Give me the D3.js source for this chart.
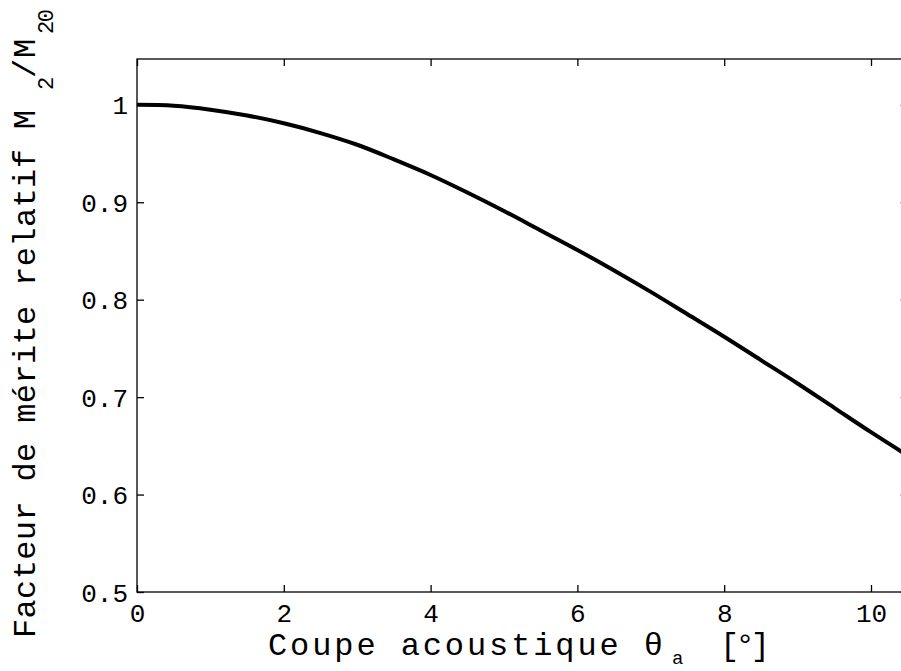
<!DOCTYPE html>
<html>
<head>
<meta charset="utf-8">
<script src="https://cdn.jsdelivr.net/npm/d3@7"></script>
<style>
  html, body { margin: 0; padding: 0; background: #fff; overflow: hidden; }
  svg { display: block; }
  text { font-family: "Liberation Mono", "Courier New", monospace; fill: #000; }
</style>
</head>
<body>
<svg id="chart" width="901" height="671"></svg>
<script>
// ---- data ----
const angles = [0, 0.5, 1, 1.5, 2, 2.5, 3, 3.5, 4, 4.5, 5, 5.5, 6, 6.5, 7, 7.5, 8, 8.5, 9, 9.5, 10, 10.5];
const merit  = [1.000, 0.999, 0.995, 0.989, 0.981, 0.971, 0.959, 0.944, 0.928, 0.910, 0.891, 0.871, 0.851, 0.830, 0.808, 0.785, 0.762, 0.738, 0.714, 0.689, 0.664, 0.640];
const xTicks = [0, 2, 4, 6, 8, 10];
const yTicks = [0.5, 0.6, 0.7, 0.8, 0.9, 1];
const yTickLabels = ["0.5", "0.6", "0.7", "0.8", "0.9", "1"];

const svg = d3.select("#chart");
const pLeft = 137, pRight = 907.7, pTop = 59, pBottom = 592;

const x = d3.scaleLinear().domain([0, 10.5]).range([pLeft, pRight]);
const y = d3.scaleLinear().domain([0.5, 1.047]).range([pBottom, pTop]);

const tickLen = 7;
const font = 26;

// box
svg.append("rect")
  .attr("x", pLeft).attr("y", pTop)
  .attr("width", pRight - pLeft).attr("height", pBottom - pTop)
  .attr("fill", "none").attr("stroke", "#000").attr("stroke-width", 1.3);

const gx = svg.append("g").attr("transform", `translate(0,${pBottom})`)
  .call(d3.axisBottom(x).tickValues(xTicks).tickSize(-tickLen).tickPadding(16).tickFormat(d3.format("d")));
const gxt = svg.append("g").attr("transform", `translate(0,${pTop})`)
  .call(d3.axisTop(x).tickValues(xTicks).tickSize(-tickLen).tickFormat(""));
const gy = svg.append("g").attr("transform", `translate(${pLeft},0)`)
  .call(d3.axisLeft(y).tickValues(yTicks).tickSize(-tickLen).tickPadding(9)
    .tickFormat((d, i) => yTickLabels[i]));
const gyr = svg.append("g").attr("transform", `translate(${pRight},0)`)
  .call(d3.axisRight(y).tickValues(yTicks).tickSize(-tickLen).tickFormat(""));

[gx, gxt, gy, gyr].forEach(g => {
  g.select(".domain").remove();
  g.selectAll(".tick line").attr("stroke", "#000").attr("stroke-width", 1.3);
  g.selectAll("text").attr("font-size", font).attr("font-family", "Liberation Mono, Courier New, monospace").attr("fill", "#000");
});
gx.selectAll("text").attr("dy", "0.55em");
gy.selectAll("text").attr("dy", "0.35em");

// curve
const line = d3.line().x((d, i) => x(angles[i])).y(d => y(d)).curve(d3.curveCatmullRom);
svg.append("path")
  .datum(merit)
  .attr("d", line)
  .attr("fill", "none")
  .attr("stroke", "#000")
  .attr("stroke-width", 4)
  .attr("stroke-linejoin", "round");

// x label
const xl = 32;
svg.append("text").attr("x", 268).attr("y", 655).attr("font-size", xl)
  .attr("textLength", 395).attr("lengthAdjust", "spacing")
  .text("Coupe acoustique θ");
svg.append("text").attr("x", 672).attr("y", 664).attr("font-size", 19).text("a");
svg.append("text").attr("x", 720).attr("y", 655).attr("font-size", xl)
  .attr("textLength", 50).attr("lengthAdjust", "spacing").text("[°]");

// y label (rotated)
const yl = svg.append("g").attr("transform", "translate(35,638) rotate(-90)");
yl.append("text").attr("x", 0).attr("y", 0).attr("font-size", xl)
  .attr("textLength", 528).attr("lengthAdjust", "spacing")
  .text("Facteur de mérite relatif M");
yl.append("text").attr("x", 548).attr("y", 18).attr("font-size", 22).text("2");
yl.append("text").attr("x", 560).attr("y", 0).attr("font-size", xl).text("/");
yl.append("text").attr("x", 580).attr("y", 0).attr("font-size", xl).text("M");
yl.append("text").attr("x", 604).attr("y", 18).attr("font-size", 22)
  .attr("textLength", 25).attr("lengthAdjust", "spacing").text("20");
</script>
</body>
</html>
